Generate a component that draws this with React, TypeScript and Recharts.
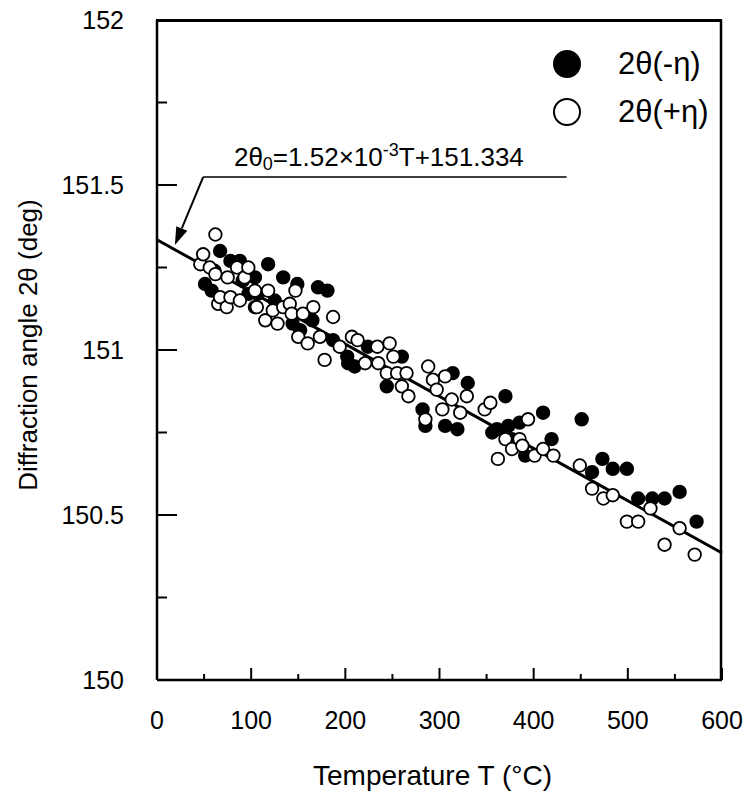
import { ScatterChart, Scatter, XAxis, YAxis, ReferenceLine, ReferenceArea, Legend } from 'recharts'

const FONT = '"Liberation Sans", Arial, sans-serif'

// 2θ(-η) filled markers
const minusT = [51, 58, 61, 67, 78, 88, 91, 97, 104, 104, 107, 118, 125, 134, 144, 149, 152, 165, 171, 181, 187, 202, 203, 210, 224, 244, 260, 282, 285, 306, 314, 319, 330, 356, 361, 370, 373, 377, 385, 391, 410, 419, 451, 462, 473, 484, 499, 511, 526, 539, 555, 573]
const minusV = [151.2, 151.18, 151.24, 151.3, 151.27, 151.27, 151.21, 151.17, 151.22, 151.13, 151.17, 151.26, 151.15, 151.22, 151.08, 151.2, 151.06, 151.09, 151.19, 151.18, 151.03, 150.98, 150.96, 150.95, 151.01, 150.89, 150.98, 150.82, 150.77, 150.77, 150.93, 150.76, 150.9, 150.75, 150.76, 150.86, 150.77, 150.73, 150.78, 150.68, 150.81, 150.73, 150.79, 150.63, 150.67, 150.64, 150.64, 150.55, 150.55, 150.55, 150.57, 150.48]

// 2θ(+η) open markers
const plusT = [46, 49, 56, 62, 62, 65, 67, 74, 75, 78, 85, 88, 93, 97, 104, 106, 115, 118, 123, 128, 134, 141, 143, 147, 150, 155, 160, 166, 173, 178, 187, 194, 207, 213, 221, 234, 235, 244, 247, 251, 255, 260, 265, 267, 285, 288, 293, 297, 303, 306, 313, 322, 329, 348, 354, 362, 370, 377, 385, 388, 394, 401, 410, 421, 449, 462, 474, 484, 499, 511, 524, 539, 555, 571]
const plusV = [151.26, 151.29, 151.25, 151.35, 151.23, 151.14, 151.16, 151.13, 151.22, 151.16, 151.25, 151.15, 151.22, 151.25, 151.18, 151.13, 151.09, 151.18, 151.12, 151.08, 151.13, 151.14, 151.11, 151.18, 151.04, 151.11, 151.02, 151.13, 151.04, 150.97, 151.1, 151.01, 151.04, 151.03, 150.96, 151.01, 150.96, 150.93, 151.02, 150.98, 150.93, 150.89, 150.93, 150.86, 150.79, 150.95, 150.91, 150.88, 150.82, 150.92, 150.85, 150.81, 150.86, 150.82, 150.84, 150.67, 150.73, 150.7, 150.73, 150.71, 150.79, 150.68, 150.7, 150.68, 150.65, 150.58, 150.55, 150.56, 150.48, 150.48, 150.52, 150.41, 150.46, 150.38]

// fitted line 2θ0
const fitT = [0, 600]
const fitV = [151.334, 150.385]

const xTicks = [0, 50, 100, 150, 200, 250, 300, 350, 400, 450, 500, 550, 600]
const yTicks = [150, 150.25, 150.5, 150.75, 151, 151.25, 151.5, 151.75, 152]

const legendItems = [
  { label: '2θ(-η)', fill: '#000' },
  { label: '2θ(+η)', fill: '#fff' },
]

const zip = (t: number[], v: number[]) => t.map((x, i) => ({ t: x, v: v[i] }))
const minusData = zip(minusT, minusV)
const plusData = zip(plusT, plusV)
const fitData = zip(fitT, fitV)

function XTick({ x, y, payload }: any) {
  const major = payload.value % 100 === 0
  return (
    <g>
      <line x1={x} x2={x} y1={y} y2={y - (major ? 12 : 6)} stroke="#000" strokeWidth={2} />
      {major && (
        <text x={x} y={y + 40} textAnchor="middle" dominantBaseline="central" fontFamily={FONT} fontSize={25} fill="#000">
          {payload.value}
        </text>
      )}
    </g>
  )
}

function YTick({ x, y, payload }: any) {
  const major = Math.abs(payload.value * 2 - Math.round(payload.value * 2)) < 1e-6
  return (
    <g>
      <line x1={x} x2={x + (major ? 20 : 10)} y1={y} y2={y} stroke="#000" strokeWidth={2} />
      {major && (
        <text x={x - 33} y={y} textAnchor="end" dominantBaseline="central" fontFamily={FONT} fontSize={25} fill="#000">
          {payload.value}
        </text>
      )}
    </g>
  )
}

const dot = (fill: string) => (props: any) => (
  <circle cx={props.cx} cy={props.cy} r={6.3} fill={fill} stroke="#000" strokeWidth={1.8} />
)

function Arrow(props: any) {
  const { x1, y1, x2, y2 } = props
  const a = Math.atan2(y2 - y1, x2 - x1)
  const len = 18
  const w = 6
  const bx = x2 - len * Math.cos(a)
  const by = y2 - len * Math.sin(a)
  const px = -Math.sin(a) * w
  const py = Math.cos(a) * w
  return (
    <g>
      <line x1={x1} y1={y1} x2={bx} y2={by} stroke="#000" strokeWidth={2} />
      <polygon points={`${x2},${y2} ${bx + px},${by + py} ${bx - px},${by - py}`} fill="#000" />
    </g>
  )
}

function EquationLabel({ viewBox }: any) {
  const cx = viewBox.x + viewBox.width / 2 - 6
  const by = viewBox.y - 11
  return (
    <text x={cx} y={by} textAnchor="middle" fontFamily={FONT} fontSize={26} fill="#000">
      <tspan>2θ</tspan>
      <tspan fontSize={18} dy={4}>0</tspan>
      <tspan dy={-4}>=1.52×10</tspan>
      <tspan fontSize={18} dy={-10}>-3</tspan>
      <tspan dy={10}>T+151.334</tspan>
    </text>
  )
}

// plot frame, drawn a hair inside the scaled rectangle
function Frame(props: any) {
  const { x, y, width, height } = props
  return (
    <g>
      <line x1={x} x2={x + width - 1} y1={y + 1} y2={y + 1} stroke="#000" strokeWidth={2} />
      <line x1={x + width - 1} x2={x + width - 1} y1={y} y2={y + height} stroke="#000" strokeWidth={2.5} />
    </g>
  )
}

function renderLegend() {
  return (
    <div style={{ fontFamily: FONT, fontSize: 31, color: '#000' }}>
      {legendItems.map((item) => (
        <div key={item.label} style={{ display: 'flex', alignItems: 'center', height: 48 }}>
          <svg width={30} height={30}>
            <circle cx={15} cy={15} r={13} fill={item.fill} stroke="#000" strokeWidth={2} />
          </svg>
          <span style={{ marginLeft: 36 }}>{item.label}</span>
        </div>
      ))}
    </div>
  )
}

export default function App() {
  return (
    <div style={{ position: 'fixed', top: 0, left: 0, width: 744, height: 794, background: '#fff' }}>
      <ScatterChart width={744} height={794} margin={{ top: 20, right: 22, bottom: 0, left: 0 }}>
        <XAxis
          type="number"
          dataKey="t"
          domain={[0, 600]}
          ticks={xTicks}
          interval={0}
          tickSize={0}
          tickMargin={0}
          tick={<XTick />}
          axisLine={{ stroke: '#000', strokeWidth: 2.5 }}
          height={114}
          label={({ viewBox }: any) => (
            <text
              x={viewBox.x + viewBox.width / 2 - 7}
              y={viewBox.y + 95}
              textAnchor="middle"
              dominantBaseline="central"
              fontFamily={FONT}
              fontSize={28}
              fill="#000"
            >
              Temperature T (°C)
            </text>
          )}
        />
        <YAxis
          type="number"
          dataKey="v"
          domain={[150, 152]}
          ticks={yTicks}
          interval={0}
          tickSize={0}
          tickMargin={0}
          tick={<YTick />}
          axisLine={{ stroke: '#000', strokeWidth: 2.5 }}
          width={157}
          label={({ viewBox }: any) => {
            const x = viewBox.x + 28
            const y = viewBox.y + viewBox.height / 2 - 5
            return (
              <text
                x={x}
                y={y}
                transform={`rotate(-90, ${x}, ${y})`}
                textAnchor="middle"
                dominantBaseline="central"
                fontFamily={FONT}
                fontSize={26}
                fill="#000"
              >
                Diffraction angle 2θ (deg)
              </text>
            )
          }}
        />
        <ReferenceArea x1={0} x2={600} y1={150} y2={152} ifOverflow="visible" shape={<Frame />} />
        <ReferenceLine
          segment={[{ x: 49, y: 151.524 }, { x: 435, y: 151.524 }]}
          stroke="#000"
          strokeWidth={1.5}
          label={<EquationLabel />}
        />
        <ReferenceLine segment={[{ x: 49, y: 151.524 }, { x: 19, y: 151.318 }]} shape={<Arrow />} />
        <Legend
          content={renderLegend}
          layout="vertical"
          verticalAlign="middle"
          align="center"
          wrapperStyle={{ position: 'absolute', top: 40, left: 552, width: 190 }}
        />
        <Scatter
          data={fitData}
          line={{ stroke: '#000', strokeWidth: 3 }}
          shape={() => <g />}
          isAnimationActive={false}
          legendType="none"
        />
        <Scatter data={minusData} shape={dot('#000')} isAnimationActive={false} />
        <Scatter data={plusData} shape={dot('#fff')} isAnimationActive={false} />
      </ScatterChart>
      <div
        style={{
          position: 'absolute',
          left: 156,
          top: 19,
          width: 566,
          height: 661,
          borderTop: '2px solid #000',
          borderRight: '2.5px solid #000',
          boxSizing: 'border-box',
          pointerEvents: 'none',
        }}
      />
    </div>
  )
}
